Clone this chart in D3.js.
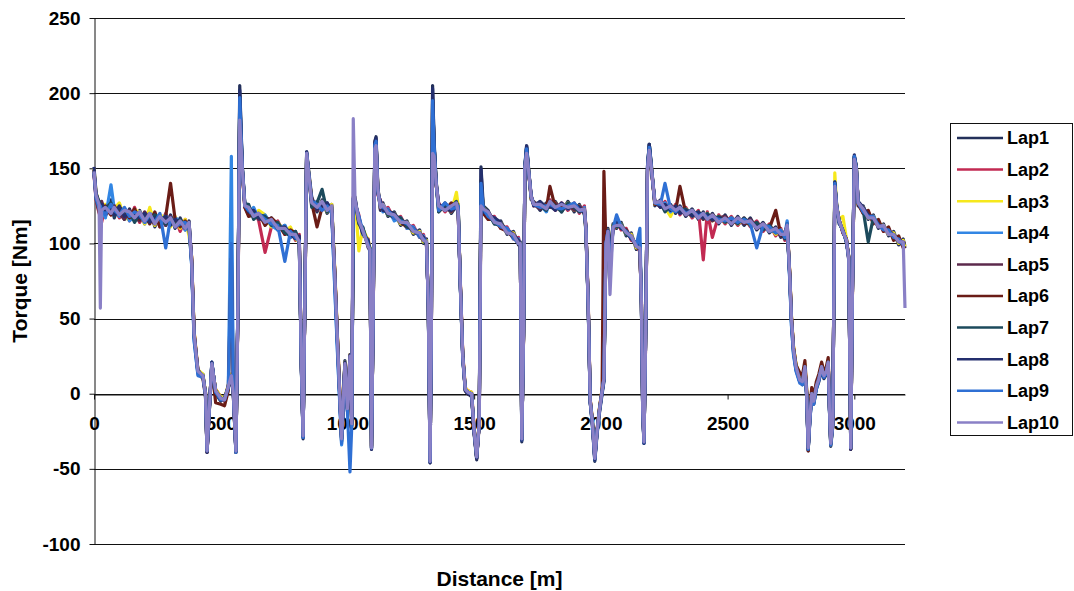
<!DOCTYPE html>
<html>
<head>
<meta charset="utf-8">
<script src="https://cdn.jsdelivr.net/npm/d3@7"></script>
<style>
  body { margin: 0; background: #fff; }
  text { font-family: "Liberation Sans", Arial, sans-serif; font-weight: bold; fill: #000; }
</style>
</head>
<body>
<svg id="chart" width="1074" height="591"></svg>
<script>
// Distance along the lap [m], shared by all laps
const distance = [
  0,8,20,25,30,45,67,80,100,120,140,160,180,200,220,240,260,283,302,320,340,360,375,
  385,395,410,430,440,446,455,465,480,500,515,530,542,550,560,568,575,585,595,
  610,630,650,675,700,725,753,775,795,810,
  818,825,832,839,848,859,880,900,920,938,950,962,977,990,1000,1010,1017,1023,1030,1045,1060,1082,1089,1095,1102,1108,1113,1120,1130,
  1140,1160,1185,1210,1235,1260,1285,1300,1312,
  1319,1326,1331,1336,1342,1350,1360,1385,1410,1430,1437,1445,1455,1465,1475,1490,1500,1510,1520,1527,1536,
  1555,1580,1605,1630,1655,1675,1682,
  1688,1695,1700,1707,1715,1725,1735,
  1760,1785,1799,1820,1845,1870,1895,1915,1935,
  1941,1950,1958,1966,1976,1985,1995,2005,2012,2020,2028,2036,2048,2062,2080,2100,2120,2140,2154,2160,2165,2170,2176,2184,2191,2200,2213,
  2235,2253,2275,2295,2312,2335,2360,2385,2404,2420,2440,2465,2490,2515,2540,2565,2590,2615,2640,2665,2690,2710,2726,2735,
  2745,2752,2760,2770,2785,2795,2805,2812,2818,2825,2832,2840,2850,2860,2871,2880,2890,2897,2902,2907,2915,2923,2930,2940,2955,2969,2978,2986,2992,3000,3008,3015,
  3035,3055,3075,3095,3115,3135,3155,3175,3193,3200
];

// Torque [Nm] per lap
const lap1 = [
  147,131,128,119,127,118,129,117,126,116,123,115,122,113,122,111,119,112,119,110,117,109,115,
  88,38,14,13,-2,-39,-12,21,0,-5,-3,4,11,-2,-39,62,205,152,127,
  125,117,121,113,117,109,112,104,108,100,
  18,-30,62,161,147,131,121,129,120,126,78,28,-32,22,-12,24,-22,129,131,112,111,97,97,-37,62,168,171,138,122,
  127,118,121,112,115,106,109,100,103,
  58,-46,42,205,168,142,121,127,120,125,126,73,23,2,0,-2,-27,-44,-18,151,125,
  122,113,115,106,108,99,101,
  -32,42,152,165,150,129,128,
  122,127,124,128,121,128,121,126,119,
  108,58,-6,-20,-45,-27,-12,0,8,98,110,90,113,110,114,105,107,96,99,58,-12,-33,32,152,166,151,125,
  129,122,126,120,125,118,123,116,121,115,120,113,119,112,118,112,117,109,114,107,111,104,108,110,
  78,48,28,16,8,6,16,-2,-38,-17,-2,-7,3,8,16,10,13,19,-12,-35,-22,138,127,113,110,100,92,-37,62,157,152,125,
  125,116,119,110,113,105,108,99,103,97
];
const lap2 = [
  146,129,120,126,114,125,119,125,117,123,115,124,114,120,114,119,111,120,112,117,108,116,109,
  91,41,16,11,1,-37,-9,19,3,-2,-5,6,13,1,-37,58,190,148,124,
  119,123,115,94,111,115,106,110,102,106,
  21,-27,58,158,144,125,128,122,127,120,82,32,-28,18,-8,26,-18,131,126,119,105,103,93,-35,58,162,165,132,129,
  122,124,116,118,110,112,104,106,98,
  62,-44,38,190,163,139,127,121,126,128,120,77,27,4,2,1,-23,-40,-21,138,120,
  117,118,110,111,103,104,97,
  -28,38,148,161,147,132,125,
  127,122,129,122,127,122,127,120,125,
  111,62,-4,-17,-41,-24,-9,3,12,101,107,93,108,115,109,110,102,101,94,62,-8,-31,28,148,162,148,128,
  124,128,120,126,119,124,117,122,89,121,104,119,113,118,112,117,111,115,108,113,105,110,102,114,
  81,51,31,19,10,9,19,1,-35,-14,1,-4,6,11,19,13,16,22,-9,-32,-19,139,124,116,107,103,89,-35,58,156,149,128,
  120,121,114,115,108,110,103,104,98,100
];
const lap3 = [
  150,134,127,121,118,126,121,123,127,117,116,122,121,113,124,112,119,117,111,118,110,116,105,
  92,42,16,13,1,-36,-8,19,3,-2,-3,6,13,1,-36,59,193,149,126,
  124,118,122,119,111,114,108,111,103,101,
  22,-26,59,159,146,129,123,128,121,126,83,33,-27,21,-9,26,-19,131,130,95,110,102,97,-35,59,164,166,136,124,
  126,119,120,113,114,107,108,101,102,
  61,-43,39,193,164,141,122,126,121,134,125,76,26,4,2,1,-24,-41,-19,139,124,
  120,114,114,107,107,100,100,
  -29,39,149,162,149,130,127,
  124,126,125,127,122,127,122,125,120,
  109,61,-4,-17,-42,-24,-9,3,11,99,109,91,112,111,113,106,106,97,98,61,-9,-31,31,149,163,150,126,
  127,124,118,125,121,123,118,121,116,120,115,118,114,117,113,116,112,113,110,112,106,109,104,111,
  82,52,32,20,11,10,20,2,-35,-14,1,-4,6,11,19,13,16,22,-9,-34,-21,147,126,116,118,103,91,-35,59,157,151,126,
  124,117,118,112,112,106,107,100,102,98
];
const lap4 = [
  148,130,122,127,123,117,139,123,118,123,115,118,121,114,120,118,112,119,114,117,115,109,113,
  86,35,13,12,-1,-37,-11,21,1,-4,-4,4,158,-1,-39,61,196,151,126,
  120,124,116,119,112,109,112,104,107,100,
  19,-29,61,160,145,126,128,123,127,121,70,22,-34,19,-11,24,-21,130,126,118,106,102,93,-36,61,166,167,133,128,
  121,123,115,117,110,111,104,105,99,
  59,-45,41,196,166,140,126,122,125,123,122,74,24,3,1,-1,-26,-43,-20,141,121,
  118,117,111,110,103,103,98,
  -31,41,151,164,148,131,126,
  126,121,128,123,126,123,126,121,124,
  110,59,-6,-19,-44,-26,-11,1,9,100,108,88,109,117,110,109,103,100,100,59,-11,-33,30,151,165,149,127,
  125,127,121,124,120,122,121,117,119,116,118,114,117,113,116,114,115,111,112,108,109,106,106,115,
  76,45,27,16,8,7,17,-1,-37,-16,-1,-6,4,9,17,11,14,20,-11,-34,-21,141,124,114,108,101,89,-36,61,158,150,127,
  121,120,115,114,109,109,104,103,99,99
];
const lap5 = [
  146,133,126,120,128,120,121,125,120,116,122,117,115,121,116,113,118,112,118,111,116,110,114,
  90,40,15,12,0,-38,-10,20,2,-3,-4,5,12,0,-38,60,194,150,125,
  123,121,116,117,116,110,110,108,104,104,
  20,-28,60,160,145,130,122,127,122,125,80,30,-30,20,-10,25,-20,130,129,114,110,98,96,-36,60,165,168,137,123,
  125,120,117,116,113,108,107,104,100,
  60,-45,40,195,165,140,123,126,121,127,124,75,25,3,1,0,-25,-42,-20,140,123,
  121,115,113,109,106,102,99,
  -30,40,150,163,148,131,126,
  123,126,124,127,123,126,122,125,121,
  110,60,-5,-18,-43,-25,-10,2,10,100,108,92,111,112,112,107,105,98,97,60,-10,-32,30,150,164,149,127,
  128,123,124,121,123,119,121,120,116,119,115,117,118,114,117,113,116,110,113,109,110,105,107,112,
  80,50,30,18,9,8,18,0,-36,-15,0,-5,5,10,18,12,15,21,-10,-33,-20,140,125,115,108,102,90,-36,60,158,150,127,
  123,118,117,111,111,107,106,101,101,100
];
const lap6 = [
  149,130,121,126,121,125,119,124,121,122,117,123,116,119,113,121,111,118,140,116,111,115,110,
  91,41,14,10,-2,-39,-12,18,-6,-7,-8,2,90,-2,-39,58,192,149,124,
  118,119,120,112,117,113,106,109,107,102,
  21,-27,59,159,144,127,111,124,126,121,81,31,-29,19,-9,24,-19,129,127,117,107,101,94,-35,59,164,167,134,127,
  123,122,119,114,111,110,105,102,101,
  61,-44,39,194,164,139,125,122,127,124,121,76,26,2,0,-1,-26,-43,-21,139,120,
  116,116,110,108,104,100,97,
  -29,39,149,162,147,130,127,
  126,123,138,124,125,124,125,122,123,
  111,61,-4,-17,-42,-24,-9,3,148,99,107,93,109,114,110,109,103,100,95,61,-9,-31,29,149,163,148,126,
  126,124,124,122,138,120,122,118,120,116,119,115,117,113,116,114,113,112,111,110,122,106,104,111,
  81,51,31,19,14,12,22,3,-38,-10,4,-2,8,13,21,15,18,24,-8,-32,-19,139,124,116,107,103,91,-37,59,157,149,126,
  120,122,113,116,108,111,102,105,97,98
];
const lap7 = [
  148,133,128,124,120,123,127,118,124,121,121,114,120,118,115,119,117,113,117,112,116,111,114,
  89,39,15,12,0,-38,-10,20,2,-3,-4,5,12,0,-38,61,198,151,126,
  126,116,119,118,112,114,107,105,108,101,
  20,-28,60,160,145,124,127,136,121,124,80,30,-30,20,-10,25,-20,130,128,113,111,99,97,-36,60,165,168,136,124,
  125,119,118,117,111,109,107,103,99,
  60,-45,40,196,165,140,121,125,124,128,124,75,25,3,1,0,-25,-42,-20,142,124,
  120,113,112,109,105,101,100,
  -30,40,150,164,148,131,126,
  125,122,128,125,121,127,124,121,123,
  110,60,-5,-18,-43,-25,-10,2,10,100,108,92,112,111,113,106,105,98,97,60,-10,-32,30,150,166,149,127,
  127,121,125,122,121,123,119,121,117,120,116,118,114,117,113,117,112,114,109,112,107,108,103,113,
  80,50,30,18,9,8,18,0,-36,-15,0,-5,5,10,18,12,15,21,-10,-33,-20,140,125,115,108,102,90,-36,60,158,150,127,
  122,101,117,112,111,107,106,101,100,99
];
const lap8 = [
  151,134,125,118,126,122,124,119,125,118,120,119,117,120,114,117,116,118,112,116,114,111,112,
  89,39,16,11,1,-39,-11,21,1,-4,-3,5,12,1,-38,61,202,151,126,
  121,122,117,115,115,110,111,106,103,105,
  19,-29,61,161,146,129,123,125,127,122,79,29,-31,21,-11,26,-21,130,130,115,107,102,94,-37,61,167,170,134,128,
  122,121,120,114,113,108,106,104,100,
  59,-46,41,203,166,141,126,123,122,125,122,74,24,2,0,-1,-26,-43,-19,149,121,
  119,117,114,107,106,102,98,
  -31,41,151,165,149,132,125,
  128,124,125,122,127,123,126,124,120,
  109,59,-6,-19,-44,-26,-11,1,9,99,109,91,110,114,110,108,103,100,96,59,-11,-33,31,151,166,150,128,
  124,126,122,125,120,122,118,121,117,119,116,117,115,116,114,116,114,111,112,109,108,107,105,112,
  79,49,29,17,8,7,17,-1,-37,-16,-1,-6,4,9,17,11,14,20,-11,-34,-21,141,126,114,109,101,91,-37,61,159,151,128,
  124,119,116,113,110,108,105,102,100,100
];
const lap9 = [
  147,130,123,125,122,119,126,122,119,124,118,121,119,114,119,114,120,97,117,111,113,114,110,
  87,36,12,11,-1,-38,-11,20,1,-4,-4,4,100,-1,-39,60,197,150,125,
  122,119,120,116,113,112,88,108,104,102,
  19,-29,60,160,145,128,126,122,125,120,72,24,-33,18,-12,-52,-22,130,127,118,109,99,96,-36,60,165,168,135,125,
  124,122,117,115,113,110,105,103,101,
  60,-45,40,195,165,140,122,127,123,124,125,74,24,3,1,0,-25,-42,-20,140,123,
  118,115,111,110,104,100,99,
  -30,40,150,163,148,131,126,
  124,125,126,124,123,125,127,122,122,
  110,59,-5,-18,-43,-25,-10,2,10,100,108,80,110,119,111,108,104,99,110,60,-10,-32,30,150,164,149,127,
  126,140,123,121,124,120,122,118,120,117,118,116,115,117,114,116,113,97,112,111,107,109,104,113,
  77,46,26,15,7,6,16,-2,-37,-17,-3,-7,3,9,17,11,14,20,-11,-34,-21,140,125,115,108,102,90,-36,60,158,150,127,
  121,118,118,112,109,109,104,103,99,99
];
const lap10 = [
  148,132,126,57,122,124,120,124,119,122,121,117,121,115,120,113,118,114,117,111,115,110,114,
  90,40,15,12,0,-38,-10,20,2,-3,-4,5,12,0,-38,60,182,150,125,
  124,118,120,114,116,110,110,106,106,101,
  20,-28,60,160,145,127,124,128,122,125,80,30,-30,20,-10,25,-20,183,129,115,109,98,96,-36,60,163,165,136,124,
  126,120,119,114,114,108,107,102,101,
  60,-45,40,160,158,140,125,122,125,127,121,75,25,3,1,0,-25,-42,-20,125,123,
  121,114,113,107,106,100,100,
  -30,40,150,160,148,131,126,
  126,123,128,124,126,124,125,122,123,
  110,60,-5,-18,-43,-25,-10,2,10,100,108,66,111,112,112,107,105,98,97,60,-10,-32,30,150,162,149,127,
  128,123,125,122,124,119,122,117,120,116,119,114,117,113,117,114,115,110,113,108,110,106,106,112,
  80,50,30,18,9,8,18,0,-36,-15,0,-5,5,10,18,12,15,21,-10,-33,-20,138,125,115,108,102,90,-36,60,156,150,127,
  123,117,117,111,112,106,106,101,101,57
];

const lapNames = ["Lap1","Lap2","Lap3","Lap4","Lap5","Lap6","Lap7","Lap8","Lap9","Lap10"];
const lapColors = ["#23305a","#c22a52","#f6e81c","#3286e4","#5c2a4c","#6a1c16","#1c4a5c","#242f6e","#2f70d4","#8a80c6"];
const laps = [lap1, lap2, lap3, lap4, lap5, lap6, lap7, lap8, lap9, lap10];

const yTicks = [-100, -50, 0, 50, 100, 150, 200, 250];
const xTicks = [0, 500, 1000, 1500, 2000, 2500, 3000];

const svg = d3.select("#chart");
const x = d3.scaleLinear().domain([0, 3200]).range([94, 905]);
const y = d3.scaleLinear().domain([-100, 250]).range([544, 18]);
const plain = d => String(d);

// horizontal gridlines
svg.append("g")
  .selectAll("line")
  .data(yTicks)
  .join("line")
  .attr("x1", x(0)).attr("x2", x(3200))
  .attr("y1", d => Math.round(y(d)) + 0.5).attr("y2", d => Math.round(y(d)) + 0.5)
  .attr("stroke", "#111").attr("stroke-width", 1);

// value axis
const yAxis = svg.append("g")
  .attr("transform", `translate(${x(0) + 0.5},0)`)
  .call(d3.axisLeft(y).tickValues(yTicks).tickFormat(plain).tickSize(5).tickSizeOuter(0).tickPadding(9));
yAxis.selectAll("text").style("font-size", "19px");

// distance axis, crossing at zero torque
const xAxis = svg.append("g")
  .attr("transform", `translate(0,${Math.round(y(0)) + 0.5})`)
  .call(d3.axisBottom(x).tickValues(xTicks).tickFormat(plain).tickSize(5).tickSizeOuter(0).tickPadding(17));
xAxis.selectAll("text").style("font-size", "19px");
svg.selectAll(".domain, .tick line").attr("stroke", "#111");

// lap traces
const line = d3.line()
  .x((d, i) => x(distance[i]))
  .y(d => y(d));

svg.append("g")
  .selectAll("path")
  .data(laps)
  .join("path")
  .attr("d", d => line(d.slice(0, distance.length)))
  .attr("fill", "none")
  .attr("stroke", (d, i) => lapColors[i])
  .attr("stroke-width", 3.2)
  .attr("stroke-linejoin", "round");

// axis titles
svg.append("text")
  .attr("transform", `translate(27,${(y(250) + y(-100)) / 2}) rotate(-90)`)
  .attr("text-anchor", "middle")
  .style("font-size", "21px")
  .text("Torque [Nm]");

svg.append("text")
  .attr("x", (x(0) + x(3200)) / 2)
  .attr("y", 586)
  .attr("text-anchor", "middle")
  .style("font-size", "21px")
  .text("Distance [m]");

// legend
const legend = svg.append("g");
legend.append("rect")
  .attr("x", 950.5).attr("y", 123.5)
  .attr("width", 122).attr("height", 312)
  .attr("fill", "#fff").attr("stroke", "#111");

const item = legend.selectAll("g.item")
  .data(lapNames)
  .join("g")
  .attr("class", "item")
  .attr("transform", (d, i) => `translate(0,${138 + i * 31.6})`);
item.append("line")
  .attr("x1", 957).attr("x2", 1003)
  .attr("stroke", (d, i) => lapColors[i])
  .attr("stroke-width", 2.5);
item.append("text")
  .attr("x", 1007)
  .attr("dy", "0.36em")
  .style("font-size", "18px")
  .text(d => d);
</script>
</body>
</html>
